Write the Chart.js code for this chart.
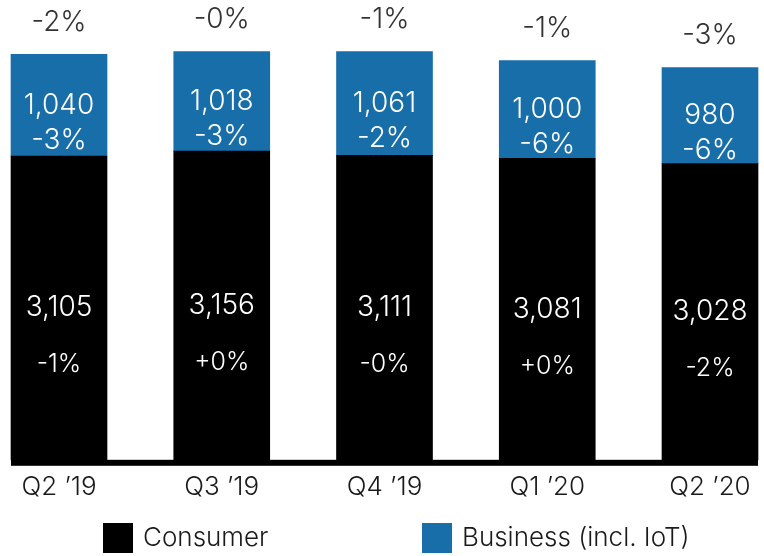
<!DOCTYPE html>
<html>
<head>
<meta charset="utf-8">
<script src="https://cdn.jsdelivr.net/npm/chart.js@4"></script>
<style>
  html, body { margin: 0; padding: 0; background: #fff; }
  #wrap { width: 764px; height: 556px; }
</style>
</head>
<body>
<div id="wrap"><canvas id="customersChart"></canvas></div>
<script>
// quarters
const quarters = ["Q2 \u201919", "Q3 \u201919", "Q4 \u201919", "Q1 \u201920", "Q2 \u201920"];

// customers, thousands
const consumer = [3105, 3156, 3111, 3081, 3028];
const business = [1040, 1018, 1061, 1000, 980];

// year on year change
const consumerChange = ["-1%", "+0%", "-0%", "+0%", "-2%"];
const businessChange = ["-3%", "-3%", "-2%", "-6%", "-6%"];
const totalChange = ["-2%", "-0%", "-1%", "-1%", "-3%"];

const FONT = "Inter, Roboto, sans-serif";
const BLUE = "#176ea9";

// labels inside and above the bars, the thick base line and the legend
const barLabels = {
	id: "barLabels",
	afterDatasetsDraw(chart) {
		const ctx = chart.ctx;
		const cons = chart.getDatasetMeta(0).data;
		const bus = chart.getDatasetMeta(1).data;

		ctx.save();
		ctx.textAlign = "center";
		ctx.textBaseline = "middle";

		for (let i = 0; i < cons.length; i++) {
			let c = cons[i];
			let b = bus[i];

			// consumer
			let mid = (c.y + c.base) / 2;
			ctx.fillStyle = "#fff";
			ctx.font = "300 28px " + FONT;
			ctx.fillText(consumer[i].toLocaleString("en-US"), c.x, mid);
			ctx.font = "300 25px " + FONT;
			ctx.fillText(consumerChange[i], c.x, mid + 57);

			// business
			mid = (b.y + b.base) / 2;
			ctx.font = "300 28px " + FONT;
			ctx.fillText(business[i].toLocaleString("en-US"), b.x, mid);
			ctx.fillText(businessChange[i], b.x, mid + 35);

			// total
			ctx.fillStyle = "#333";
			ctx.fillText(totalChange[i], b.x, b.y - 32);
		}

		// base line under the bars
		let first = cons[0];
		let last = cons[cons.length - 1];
		let left = first.x - first.width / 2;
		let y0 = chart.scales.y.getPixelForValue(0);
		ctx.fillStyle = "#000";
		ctx.fillRect(left, y0, last.x + last.width / 2 - left, 6);

		// legend
		ctx.font = "300 26px " + FONT;
		ctx.textAlign = "left";
		let legendX = [103, 422];
		let top = chart.height - 33;
		chart.data.datasets.forEach((d, i) => {
			ctx.fillStyle = d.backgroundColor;
			ctx.fillRect(legendX[i], top, 30, 30);
			ctx.fillStyle = "#1a1a1a";
			ctx.fillText(d.label, legendX[i] + 40, top + 15);
		});
		ctx.restore();
	},
};

const ctx = document.getElementById("customersChart").getContext("2d");

new Chart(ctx, {
	type: "bar",
	data: {
		labels: quarters,
		datasets: [
			{
				label: "Consumer",
				data: consumer,
				backgroundColor: "#000",
				barThickness: 96,
				clip: false,
			},
			{
				label: "Business (incl. IoT)",
				data: business,
				backgroundColor: BLUE,
				barThickness: 96,
				clip: false,
			},
		],
	},
	options: {
		responsive: true,
		maintainAspectRatio: false,
		animation: false,
		layout: {
			padding: { left: 59, right: 54, top: 0, bottom: 49 },
		},
		plugins: {
			legend: { display: false },
			tooltip: { enabled: false },
		},
		scales: {
			x: {
				stacked: true,
				offset: false,
				grid: { display: false },
				border: { display: false },
				ticks: {
					color: "#1a1a1a",
					padding: 4,
					font: { family: FONT, size: 26, weight: "300" },
				},
			},
			y: {
				stacked: true,
				display: false,
				min: 0,
				max: 4700,
			},
		},
	},
	plugins: [barLabels],
});
</script>
</body>
</html>
